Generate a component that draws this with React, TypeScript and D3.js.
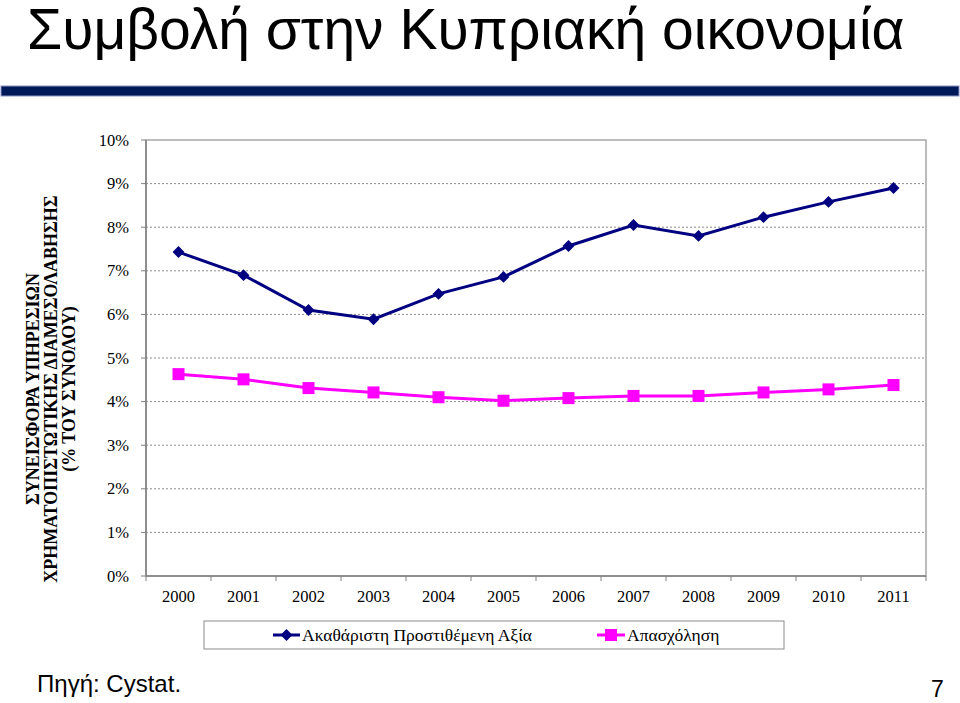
import React from "react";
import * as d3 from "d3";

// chart data
const years = ["2000", "2001", "2002", "2003", "2004", "2005", "2006", "2007", "2008", "2009", "2010", "2011"];
const gva = [7.43, 6.9, 6.1, 5.89, 6.47, 6.86, 7.57, 8.05, 7.8, 8.23, 8.58, 8.9];
const employment = [4.63, 4.51, 4.31, 4.21, 4.1, 4.02, 4.08, 4.13, 4.13, 4.21, 4.28, 4.38];
const seriesNames = ["Ακαθάριστη Προστιθέμενη Αξία", "Απασχόληση"];
const yTicks = [0, 1, 2, 3, 4, 5, 6, 7, 8, 9, 10];
const yTitle = ["ΣΥΝΕΙΣΦΟΡΑ ΥΠΗΡΕΣΙΩΝ", "ΧΡΗΜΑΤΟΠΙΣΤΩΤΙΚΗΣ ΔΙΑΜΕΣΟΛΑΒΗΣΗΣ", "(% ΤΟΥ ΣΥΝΟΛΟΥ)"];

const serif = "'Liberation Serif', 'DejaVu Serif', serif";
const sans = "'Liberation Sans', Arial, sans-serif";

const App = () => {
  const width = 960;
  const height = 703;

  // plot area
  const left = 146;
  const right = 926;
  const top = 140;
  const bottom = 576;

  const x = d3.scaleBand().domain(years).range([left, right]).padding(0);
  const y = d3.scaleLinear().domain([0, 10]).range([bottom, top]);
  const cx = (d) => x(d) + x.bandwidth() / 2;

  const line = d3
    .line()
    .x((d) => cx(d[0]))
    .y((d) => y(d[1]));

  const gvaPts = years.map((yr, i) => [yr, gva[i]]);
  const empPts = years.map((yr, i) => [yr, employment[i]]);
  const diamond = d3.symbol().type(d3.symbolDiamond2).size(90)();

  const navy = "#000080";
  const magenta = "#ff00ff";

  return (
    <svg
      width={width}
      height={height}
      style={{ position: "absolute", left: 0, top: 0, background: "#fff" }}
    >
      {/* title */}
      <text x={27} y={49} fontFamily={sans} fontSize={57} fill="#000">
        Συμβολή στην Κυπριακή οικονομία
      </text>
      <rect x={1} y={86} width={958} height={10} fill="#001a57" stroke="#8a93c8" strokeWidth={1} />

      {/* gridlines */}
      {yTicks.slice(1, -1).map((t) => (
        <line
          key={"g" + t}
          x1={left}
          x2={right}
          y1={y(t)}
          y2={y(t)}
          stroke="#8c8c8c"
          strokeDasharray="2,2"
          strokeWidth={1}
        />
      ))}

      {/* plot frame */}
      <rect x={left} y={top} width={right - left} height={bottom - top} fill="none" stroke="#a6a6a6" strokeWidth={1.5} />
      <line x1={left} x2={left} y1={top} y2={bottom} stroke="#808080" strokeWidth={1.5} />
      <line x1={left} x2={right} y1={bottom} y2={bottom} stroke="#808080" strokeWidth={1.5} />

      {/* y axis */}
      {yTicks.map((t) => (
        <g key={"y" + t}>
          <line x1={left - 5} x2={left} y1={y(t)} y2={y(t)} stroke="#808080" />
          <text
            x={129}
            y={y(t) + 5.5}
            textAnchor="end"
            fontFamily={serif}
            fontSize={16.5}
            fill="#000"
          >
            {t + "%"}
          </text>
        </g>
      ))}

      {/* x axis */}
      {years.map((yr) => (
        <g key={"x" + yr}>
          <line x1={x(yr)} x2={x(yr)} y1={bottom} y2={bottom + 5} stroke="#808080" />
          <text x={cx(yr)} y={602} textAnchor="middle" fontFamily={serif} fontSize={16.5} fill="#000">
            {yr}
          </text>
        </g>
      ))}
      <line x1={right} x2={right} y1={bottom} y2={bottom + 5} stroke="#808080" />

      {/* y axis title */}
      <g transform="translate(51,389) rotate(-90)">
        {yTitle.map((s, i) => (
          <text
            key={s}
            x={0}
            y={(i - 1) * 18 + 6}
            textAnchor="middle"
            fontFamily={serif}
            fontWeight="bold"
            fontSize={18}
            fill="#000"
          >
            {s}
          </text>
        ))}
      </g>

      {/* series */}
      <path d={line(empPts)} fill="none" stroke={magenta} strokeWidth={3} />
      {empPts.map((d) => (
        <rect key={"e" + d[0]} x={cx(d[0]) - 6} y={y(d[1]) - 6} width={12} height={12} fill={magenta} />
      ))}
      <path d={line(gvaPts)} fill="none" stroke={navy} strokeWidth={3} />
      {gvaPts.map((d) => (
        <path key={"v" + d[0]} d={diamond} transform={`translate(${cx(d[0])},${y(d[1])})`} fill={navy} />
      ))}

      {/* legend */}
      <rect x={204} y={621} width={580} height={28} fill="#fff" stroke="#8c8c8c" strokeWidth={1} />
      <line x1={273} x2={300} y1={635} y2={635} stroke={navy} strokeWidth={3} />
      <path d={diamond} transform="translate(286.5,635)" fill={navy} />
      <text x={302} y={641} fontFamily={serif} fontSize={17.5} fill="#000">
        {seriesNames[0]}
      </text>
      <line x1={597} x2={625} y1={635} y2={635} stroke={magenta} strokeWidth={3} />
      <rect x={605} y={629} width={12} height={12} fill={magenta} />
      <text x={627} y={641} fontFamily={serif} fontSize={17.5} fill="#000">
        {seriesNames[1]}
      </text>

      {/* footer */}
      <text x={37} y={692} fontFamily={sans} fontSize={24} fill="#000">
        Πηγή: Cystat.
      </text>
      <text x={931} y={697} fontFamily={sans} fontSize={23} fill="#000">
        7
      </text>
    </svg>
  );
};

export default App;
